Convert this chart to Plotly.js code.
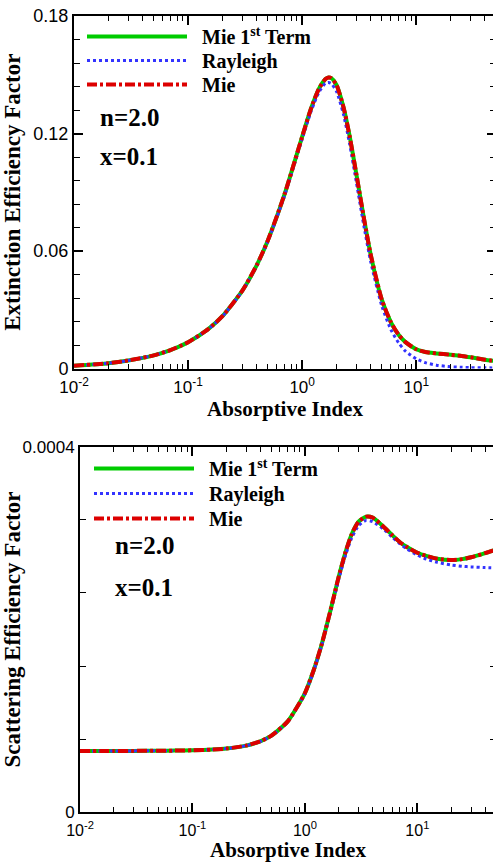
<!DOCTYPE html>
<html>
<head>
<meta charset="utf-8">
<script src="https://cdn.plot.ly/plotly-3.0.1.min.js"></script>
<style>
html, body { margin: 0; padding: 0; overflow: hidden; background: #fff; }
#chart { width: 496px; height: 863px; }
</style>
</head>
<body>
<div id="chart"></div>
<script>
// Absorptive index (x values, both panels)
const absorptiveIndex = [0.01, 0.02, 0.03, 0.05, 0.07, 0.1, 0.15, 0.2, 0.3, 0.4, 0.5, 0.7, 1.0, 1.2, 1.4, 1.6, 1.7, 1.8, 2.0, 2.3, 2.6, 3.0, 3.5, 4, 5, 6, 7, 8, 10, 12, 15, 20, 25, 30, 40, 50];

// Extinction efficiency factor (top panel)
const extMie1st = [0.0014, 0.0027, 0.0041, 0.0067, 0.0094, 0.0134, 0.0201, 0.0267, 0.0399, 0.0528, 0.0654, 0.0889, 0.1184, 0.1330, 0.1428, 0.1478, 0.1486, 0.1483, 0.1448, 0.1335, 0.1190, 0.0985, 0.0758, 0.0578, 0.0350, 0.0236, 0.0172, 0.0136, 0.0098, 0.0084, 0.0077, 0.0070, 0.0064, 0.0057, 0.0045, 0.0037];
const extRayleigh = [0.0014, 0.0027, 0.0041, 0.0067, 0.0094, 0.0134, 0.0200, 0.0266, 0.0397, 0.0525, 0.0649, 0.0881, 0.1172, 0.1315, 0.1410, 0.1457, 0.1461, 0.1455, 0.1415, 0.1299, 0.1150, 0.0944, 0.0718, 0.0542, 0.0318, 0.0198, 0.0131, 0.0090, 0.0049, 0.0030, 0.0017, 0.0009, 0.0006, 0.00045, 0.00035, 0.0003];
const extMie = [0.0014, 0.0027, 0.0041, 0.0067, 0.0094, 0.0134, 0.0201, 0.0267, 0.0399, 0.0528, 0.0654, 0.0889, 0.1184, 0.1330, 0.1428, 0.1478, 0.1486, 0.1483, 0.1448, 0.1335, 0.1190, 0.0985, 0.0758, 0.0578, 0.0350, 0.0236, 0.0172, 0.0136, 0.0098, 0.0084, 0.0077, 0.0070, 0.0064, 0.0057, 0.0045, 0.0037];

// Scattering efficiency factor (bottom panel)
const scaMie1st = [6.72e-5, 6.72e-5, 6.72e-5, 6.73e-5, 6.75e-5, 6.78e-5, 6.86e-5, 6.97e-5, 7.30e-5, 7.77e-5, 8.36e-5, 9.92e-5, 1.305e-4, 1.56e-4, 1.825e-4, 2.095e-4, 2.225e-4, 2.35e-4, 2.58e-4, 2.85e-4, 3.04e-4, 3.18e-4, 3.235e-4, 3.225e-4, 3.125e-4, 3.03e-4, 2.955e-4, 2.905e-4, 2.84e-4, 2.805e-4, 2.775e-4, 2.76e-4, 2.77e-4, 2.79e-4, 2.835e-4, 2.875e-4];
const scaRayleigh = [6.72e-5, 6.72e-5, 6.72e-5, 6.73e-5, 6.75e-5, 6.78e-5, 6.86e-5, 6.97e-5, 7.29e-5, 7.75e-5, 8.33e-5, 9.87e-5, 1.30e-4, 1.55e-4, 1.814e-4, 2.079e-4, 2.206e-4, 2.328e-4, 2.55e-4, 2.815e-4, 2.999e-4, 3.137e-4, 3.194e-4, 3.18e-4, 3.098e-4, 3.008e-4, 2.937e-4, 2.884e-4, 2.813e-4, 2.771e-4, 2.735e-4, 2.706e-4, 2.692e-4, 2.685e-4, 2.677e-4, 2.673e-4];
const scaMie = [6.72e-5, 6.72e-5, 6.72e-5, 6.73e-5, 6.75e-5, 6.78e-5, 6.86e-5, 6.97e-5, 7.30e-5, 7.77e-5, 8.36e-5, 9.92e-5, 1.305e-4, 1.56e-4, 1.825e-4, 2.095e-4, 2.225e-4, 2.35e-4, 2.58e-4, 2.85e-4, 3.04e-4, 3.18e-4, 3.235e-4, 3.225e-4, 3.125e-4, 3.03e-4, 2.955e-4, 2.905e-4, 2.84e-4, 2.805e-4, 2.775e-4, 2.76e-4, 2.77e-4, 2.79e-4, 2.835e-4, 2.875e-4];

// Tick labels
const xTickVals = [0.01, 0.1, 1, 10];
const xTickText = ['10<sup>-2</sup>', '10<sup>-1</sup>', '10<sup>0</sup>', '10<sup>1</sup>'];
const xMinorVals = [0.02,0.03,0.04,0.05,0.06,0.07,0.08,0.09,0.2,0.3,0.4,0.5,0.6,0.7,0.8,0.9,2,3,4,5,6,7,8,9,20,30,40,50];
const yTopTickVals = [0, 0.06, 0.12, 0.18];
const yTopTickText = ['0', '0.06', '0.12', '0.18'];
const yBotTickVals = [0, 0.0004];
const yBotTickText = ['0', '0.0004'];
const seriesNames = ['Mie 1<sup>st</sup> Term', 'Rayleigh', 'Mie'];

const W = 496, H = 863;
const GREEN = '#00cc00', BLUE = '#3333ff', RED = '#dd0000';
const serif = 'Liberation Serif, Times New Roman, serif';
const sans = 'Liberation Sans, Arial, sans-serif';
const PAD = '\u00a0\u00a0';

function mk(y, name, style, xa, ya, lg) {
  return {
    x: absorptiveIndex, y: y, name: PAD + name, type: 'scatter', mode: 'lines',
    line: Object.assign({shape: 'spline', smoothing: 0.6}, style),
    xaxis: xa, yaxis: ya, legend: lg, showlegend: true, hoverinfo: 'skip'
  };
}
const sGreen = {color: GREEN, width: 4, dash: 'solid'};
const sBlue = {color: BLUE, width: 3, dash: 'dot'};
const sRed = {color: RED, width: 4, dash: '10px,3px,3px,3px'};

const data = [
  mk(extMie1st, seriesNames[0], sGreen, 'x', 'y', 'legend'),
  mk(extRayleigh, seriesNames[1], sBlue, 'x', 'y', 'legend2'),
  mk(extMie, seriesNames[2], sRed, 'x', 'y', 'legend3'),
  mk(scaMie1st, seriesNames[0], sGreen, 'x2', 'y2', 'legend4'),
  mk(scaRayleigh, seriesNames[1], sBlue, 'x2', 'y2', 'legend5'),
  mk(scaMie, seriesNames[2], sRed, 'x2', 'y2', 'legend6')
];

function xAxis(domain, anchor, fontSize) {
  return {
    type: 'log', range: [-2, Math.log10(50)], domain: domain, anchor: anchor,
    showline: true, linecolor: 'black', linewidth: 2, mirror: 'ticks',
    ticks: 'inside', ticklen: 9, tickwidth: 2, tickcolor: 'black',
    tickmode: 'array', tickvals: xTickVals, ticktext: xTickText, ticklabelstandoff: 2,
    tickfont: {family: sans, size: fontSize, color: 'black'},
    minor: {tickmode: 'array', tickvals: xMinorVals, ticks: 'inside', ticklen: 5, tickwidth: 1, tickcolor: 'black', showgrid: false},
    showgrid: false, zeroline: false, automargin: false,
    title: {text: 'Absorptive Index', font: {family: serif, size: 21, weight: 'bold', color: 'black'}, standoff: 0}
  };
}
function yAxis(domain, anchor, range, tv, tt, minorDt, title, fontSize, standoff) {
  return {
    range: range, domain: domain, anchor: anchor,
    showline: true, linecolor: 'black', linewidth: 2, mirror: 'ticks',
    ticks: 'inside', ticklen: 9, tickwidth: 2, tickcolor: 'black',
    tickmode: 'array', tickvals: tv, ticktext: tt,
    tickfont: {family: sans, size: fontSize, color: 'black'},
    minor: {tickmode: 'linear', tick0: 0, dtick: minorDt, ticks: 'inside', ticklen: 6, tickwidth: 1, tickcolor: 'black', showgrid: false},
    showgrid: false, zeroline: false, automargin: false,
    title: {text: title, font: {family: serif, size: 23, weight: 'bold', color: 'black'}, standoff: standoff}
  };
}

const legendFont = {family: serif, size: 20, weight: 'bold', color: 'black'};
function lg(left, top) {
  return {x: left / W, y: 1 - top / H, xanchor: 'left', yanchor: 'top', bgcolor: 'rgba(0,0,0,0)', font: legendFont, itemwidth: 100, borderwidth: 0};
}
const annFont = {family: serif, size: 25, weight: 'bold', color: 'black'};
function ann(left, midY, text) {
  return {xref: 'paper', yref: 'paper', x: left / W, y: 1 - midY / H, xanchor: 'left', yanchor: 'middle', showarrow: false, text: text, font: annFont};
}

const layout = {
  width: W, height: H,
  margin: {l: 0, r: 0, t: 0, b: 0},
  paper_bgcolor: 'white', plot_bgcolor: 'white',
  showlegend: true,
  xaxis: xAxis([74 / W, 1], 'y', 17),
  yaxis: yAxis([1 - 368.5 / H, 1 - 16 / H], 'x', [0, 0.18], yTopTickVals, yTopTickText, 0.012, 'Extinction Efficiency Factor', 18, 6),
  xaxis2: xAxis([80 / W, 1], 'y2', 16),
  yaxis2: yAxis([1 - 812.3 / H, 1 - 446.7 / H], 'x2', [0, 0.0004], yBotTickVals, yBotTickText, 0.00008, 'Scattering Efficiency Factor', 17, 0),
  legend: lg(82, 17),
  legend2: lg(82, 41),
  legend3: lg(82, 65),
  legend4: lg(89, 449),
  legend5: lg(89, 474),
  legend6: lg(89, 499),
  annotations: [
    ann(98, 117, 'n=2.0'),
    ann(98, 156, 'x=0.1'),
    ann(113, 545, 'n=2.0'),
    ann(113, 587, 'x=0.1')
  ]
};

Plotly.newPlot('chart', data, layout, {staticPlot: true, displayModeBar: false});
</script>
</body>
</html>
